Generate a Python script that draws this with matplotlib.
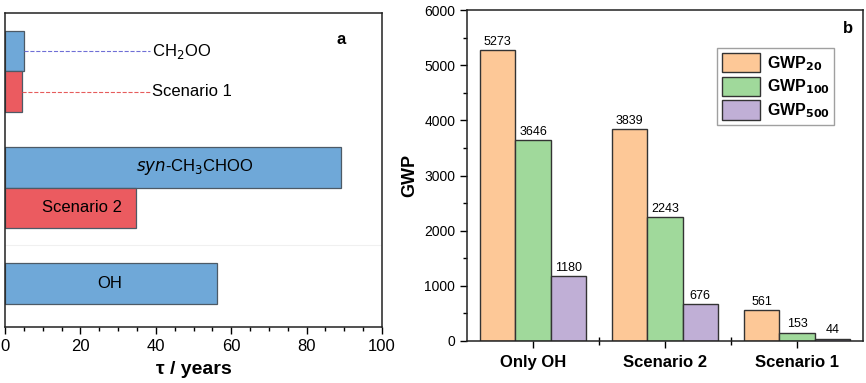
import matplotlib.pyplot as plt
from matplotlib.ticker import MultipleLocator, FixedLocator
from matplotlib.patches import Patch

plt.rcParams['font.family'] = ['Liberation Sans', 'DejaVu Sans']

# Panel a: lifetimes (years)
life_labels = ["CH$_2$OO", "Scenario 1", "$\\mathit{syn}$-CH$_3$CHOO", "Scenario 2", "OH"]
life_values = [5.0, 4.5, 89.0, 34.7, 56.3]
life_kind = ["sci", "scen", "sci", "scen", "sci"]

# Panel b: GWP
scenarios = ["Only OH", "Scenario 2", "Scenario 1"]
gwp20 = [5273, 3839, 561]
gwp100 = [3646, 2243, 153]
gwp500 = [1180, 676, 44]

blue = "#6fa8d8"
red = "#eb5b60"
colors_b = ["#fdc897", "#a0d99b", "#c0afd6"]

fig = plt.figure(figsize=(8.66, 3.83), dpi=100)

# ---------- panel a ----------
ax1 = fig.add_axes([5 / 866, 1 - 327 / 383, 377 / 866, 314 / 383])
group_centers = [1.44, 4.31, 7.18]
ypos = []
for g in range(3):
    ypos += [group_centers[g] - 0.5, group_centers[g] + 0.5]
ypos = ypos[:len(life_values)]

for y, v, k in zip(ypos, life_values, life_kind):
    ax1.barh(y, v, height=1.0, color=blue if k == "sci" else red,
             edgecolor="#4d5a66", linewidth=0.9)

# small bars: dashed leader + label outside
ax1.plot([life_values[0], 38.5], [ypos[0], ypos[0]], ls="--", color="#6f6fd6", lw=0.8)
ax1.plot([life_values[1], 38.5], [ypos[1], ypos[1]], ls="--", color="#e65c5c", lw=0.8)
ax1.text(39, ypos[0], life_labels[0], ha="left", va="center", fontsize=12)
ax1.text(39, ypos[1], life_labels[1], ha="left", va="center", fontsize=12)
# labels inside long bars
ax1.text(50.4, ypos[2], life_labels[2], ha="center", va="center", fontsize=12)
ax1.text(20.4, ypos[3], life_labels[3], ha="center", va="center", fontsize=12)
ax1.text(27.8, ypos[4], life_labels[4], ha="center", va="center", fontsize=12)

ax1.axhline(5.73, color="#f0f0f0", lw=0.8, zorder=0)

ax1.set_xlim(0, 100)
ax1.set_ylim(7.75, 0)
ax1.set_yticks([])
ax1.xaxis.set_major_locator(MultipleLocator(20))
ax1.xaxis.set_minor_locator(MultipleLocator(5))
ax1.tick_params(axis="x", which="major", direction="out", length=5, width=1, labelsize=12)
ax1.tick_params(axis="x", which="minor", direction="out", length=3, width=1)
ax1.set_xlabel("τ / years", fontsize=14, fontweight="bold", labelpad=5)
for s in ax1.spines.values():
    s.set_linewidth(1.1)
    s.set_color("#222222")
ax1.text(0.88, 0.9, "a", transform=ax1.transAxes, fontsize=12, fontweight="bold")

# ---------- panel b ----------
ax2 = fig.add_axes([467 / 866, 1 - 341 / 383, 396 / 866, 331 / 383])
w = 0.8 / 3
x = list(range(1, len(scenarios) + 1))
series = [gwp20, gwp100, gwp500]
for i, vals in enumerate(series):
    xs = [xi + (i - 1) * w for xi in x]
    bars = ax2.bar(xs, vals, width=w, color=colors_b[i], edgecolor="#333333", linewidth=1.0)
    for b, v in zip(bars, vals):
        ax2.annotate(str(v), (b.get_x() + b.get_width() / 2, v), xytext=(0, 1.5),
                     textcoords="offset points", ha="center", va="bottom", fontsize=9)

ax2.set_xlim(0.5, 3.5)
ax2.set_ylim(0, 6000)
ax2.set_xticks(x)
ax2.set_xticklabels(scenarios, fontsize=12, fontweight="bold")
ax2.xaxis.set_minor_locator(FixedLocator([1.5, 2.5]))
ax2.yaxis.set_major_locator(MultipleLocator(1000))
ax2.yaxis.set_minor_locator(MultipleLocator(500))
ax2.tick_params(axis="x", which="major", direction="out", length=5, width=1, pad=5)
ax2.tick_params(axis="x", which="minor", direction="inout", length=6, width=1)
ax2.tick_params(axis="y", which="major", direction="out", length=5, width=1, labelsize=10)
ax2.tick_params(axis="y", which="minor", direction="out", length=3, width=1)
ax2.set_ylabel("GWP", fontsize=13, fontweight="bold", labelpad=4)
for s in ax2.spines.values():
    s.set_linewidth(1.1)
    s.set_color("#222222")
ax2.text(0.95, 0.93, "b", transform=ax2.transAxes, fontsize=12, fontweight="bold")

handles = [Patch(facecolor=c, edgecolor="#333333", linewidth=1.0) for c in colors_b]
leg = ax2.legend(handles, ["GWP$_{\\mathbf{20}}$", "GWP$_{\\mathbf{100}}$", "GWP$_{\\mathbf{500}}$"],
                 loc="upper left", bbox_to_anchor=(250 / 396, 0.885),
                 prop={"weight": "bold", "size": 11.5}, fancybox=False,
                 handlelength=2.4, handleheight=1.5, borderpad=0.3, labelspacing=0.25,
                 handletextpad=0.4, borderaxespad=0)
leg.get_frame().set_edgecolor("#888888")
leg.get_frame().set_linewidth(1.0)

fig.savefig("out.png", dpi=100)
